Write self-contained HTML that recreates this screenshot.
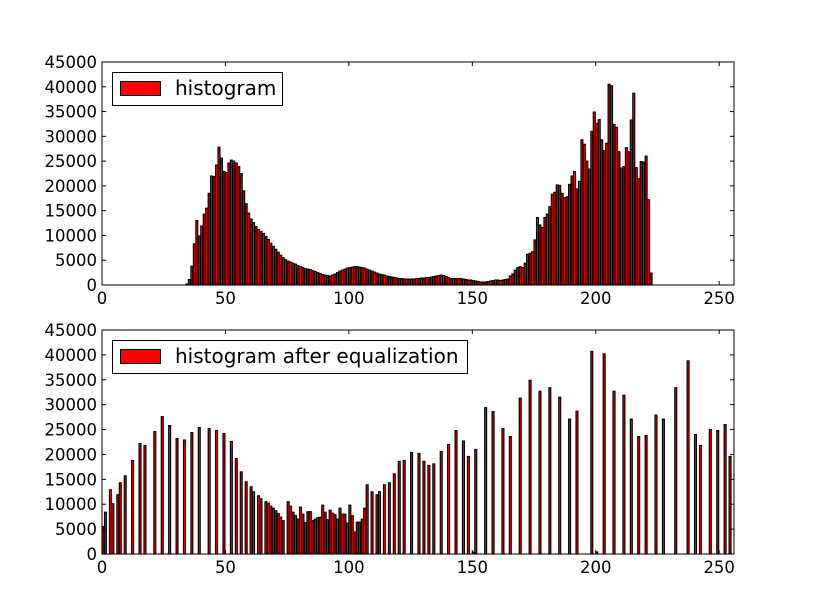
<!DOCTYPE html>
<html><head><meta charset="utf-8">
<style>
html,body{margin:0;padding:0;background:#fff;}
svg{display:block;}
text{font-family:"DejaVu Sans","Liberation Sans",sans-serif;font-size:16.5px;fill:#000;}
text.leg{font-size:20px;}
</style></head>
<body>
<svg id="chart" width="815" height="615" viewBox="0 0 815 615"></svg>
<script>
// ---- data ----
const binCount = 256;
const xTicks = [0, 50, 100, 150, 200, 250];
const yTicks = [0, 5000, 10000, 15000, 20000, 25000, 30000, 35000, 40000, 45000];
// original histogram counts (thousands), bins 0..255
const originalCountsK = [
0,0,0,0,0,0,0,0,0,0,0,0,0,0,0,0,0,0,0,0,0,0,0,0,0,0,0,0,0,0,0,0,0,0,
0.2,1.1,3.8,8.3,13,9.9,11.9,14.3,15.5,18.5,22,21.9,24.2,27.8,25.6,22.9,22.7,24.6,25.2,25,24.6,23.9,22.5,19,16.4,14.5,13.3,12.6,11.8,11.2,10.8,10.4,9.8,9.2,8.4,
7.8,7.2,6.6,6.0,5.5,5.1,4.8,4.6,4.4,4.2,3.9,3.7,3.5,3.3,3.2,3.1,2.9,2.7,2.5,2.3,2.1,2.0,1.9,1.8,
2.0,2.2,2.5,2.8,3.0,3.2,3.4,3.5,3.6,3.7,3.7,3.6,3.5,3.4,3.2,3.0,2.8,2.6,2.4,2.2,
2.1,2.0,1.8,1.7,1.6,1.5,1.4,1.3,1.3,1.2,
1.2,1.2,1.2,1.2,1.3,1.3,1.4,1.4,1.5,1.5,
1.6,1.7,1.8,1.9,2.0,1.9,1.7,1.5,1.3,1.3,
1.3,1.3,1.3,1.2,1.1,1.0,1.0,0.9,0.8,0.7,
0.6,0.6,0.6,0.7,0.8,0.9,1.0,1.0,0.9,1.0,1.1,
1.2,1.8,2.2,3.0,3.5,3.7,3.5,4.4,6.2,6.4,6.7,9.1,13.6,12.1,11.6,13.6,14.3,15.8,18.3,18.7,20.2,20.1,18.5,17.6,17.8,20.3,22.0,22.9,19.4,20.9,29.3,28.4,25.0,23.4,31.0,34.9,32.6,33.4,29.3,27.1,28.6,40.5,40.2,32.4,31.8,26.9,23.6,23.9,27.7,26.9,33.3,38.7,23.7,21.5,24.9,24.8,26.0,17.2,2.4,
0,0,0,0,0,0,0,0,0,0,0,0,0,0,0,0,0,0,0,0,0,0,0,0,0,0,0,0,0,0,0,0,0
];
// equalized histogram: occupied bins and counts (thousands)
const equalizedBins = [0,1,3,4,6,7,9,12,15,17,21,24,27,30,33,36,39,43,46,49,52,54,56,58,60,61,63,64,66,67,68,69,70,71,72,73,75,76,77,78,79,
80,81,82,83,84,85,86,87,88,89,90,91,92,93,94,95,96,97,98,99,100,101,102,103,104,105,106,
107,109,111,112,114,116,118,120,122,125,128,130,132,134,137,140,143,146,148,150,151,155,158,162,165,169,173,177,181,185,189,192,198,200,203,207,211,214,217,220,224,227,232,237,240,242,246,249,252,254];
const equalizedCountsK = [5.5,8.4,12.9,10.1,11.9,14.3,15.7,18.8,22.2,21.8,24.6,27.6,25.8,23.2,22.9,24.4,25.4,25.2,24.8,24.2,22.6,19.2,16.5,14.5,13.5,12.5,11.7,11.1,10.5,10.2,9.6,9.2,8.7,8.1,7.4,6.7,10.5,9.6,8.4,7.7,7.0,
9.4,8.0,6.3,8.5,8.5,6.7,7.0,7.3,7.4,9.8,8.4,6.9,8.8,8.2,7.9,7.0,9.2,8.0,8.0,6.2,9.8,7.7,4.4,6.4,6.4,7.0,9.2,
13.9,12.5,11.9,12.5,13.9,14.3,16.1,18.6,18.8,20.4,20.2,18.6,17.8,18.1,20.6,22.0,24.8,22.7,19.6,0.4,21.0,29.4,28.6,25.2,23.6,31.3,34.9,32.7,33.4,31.5,27.1,28.7,40.7,0.4,40.2,32.7,31.9,27.1,23.6,23.8,27.9,27.1,33.4,38.8,24.0,21.8,25.0,24.8,26.0,19.6];

// ---- drawing ----
const NS = 'http://www.w3.org/2000/svg';
const svg = document.getElementById('chart');
function el(tag, attrs, parent){
  const e = document.createElementNS(NS, tag);
  for (const k in attrs) e.setAttribute(k, attrs[k]);
  (parent||svg).appendChild(e);
  return e;
}
const X0 = 102, X1 = 734;
const yMax = 45000;

function drawPanel(panelName, top, bottom, bins, valuesK, legendLabel, legendW){
  const g = el('g', {});
  
  
  const xs = v => X0 + (v / binCount) * (X1 - X0);
  const ys = v => bottom - (v / yMax) * (bottom - top);
  const barsG = el('g', {}, g);
  
  
  for (let i = 0; i < bins.length; i++){
    const v = valuesK[i] * 1000;
    if (v <= 0) continue;
    const xl = xs(bins[i]), xr = xs(bins[i] + 0.8);
    const yt = ys(v);
    const r = el('rect', {x: xl.toFixed(2), y: yt.toFixed(2), width: (xr-xl).toFixed(2), height: (bottom-yt).toFixed(2), fill:'#ff0000', stroke:'#000', 'stroke-width':1.1}, barsG);
    
    
  }
  const frame = el('rect', {x:X0, y:top, width:X1-X0, height:bottom-top, fill:'none', stroke:'#000', 'stroke-width':1}, g);
  
  
  xTicks.forEach(t => {
    const x = xs(t);
    el('line', {x1:x, y1:bottom, x2:x, y2:bottom-4, stroke:'#000'}, g);
    el('line', {x1:x, y1:top, x2:x, y2:top+4, stroke:'#000'}, g);
    const tx = el('text', {x:x, y:bottom+19, 'text-anchor':'middle'}, g);
    tx.textContent = t;
    
    
  });
  yTicks.forEach(t => {
    const y = ys(t);
    el('line', {x1:X0, y1:y, x2:X0+4, y2:y, stroke:'#000'}, g);
    el('line', {x1:X1, y1:y, x2:X1-4, y2:y, stroke:'#000'}, g);
    const tx = el('text', {x:X0-5, y:y+6, 'text-anchor':'end'}, g);
    tx.textContent = t;
    
    
  });
  const lg = el('g', {}, g);
  
  
  el('rect', {x:112.5, y:top+10.5, width:legendW, height:33, fill:'#fff', stroke:'#000', 'stroke-width':1}, lg);
  el('rect', {x:120.5, y:top+19.5, width:40, height:14, fill:'#ff0000', stroke:'#000', 'stroke-width':1}, lg);
  const lt = el('text', {x:175, y:top+33, 'class':'leg'}, lg);
  lt.textContent = legendLabel;
  
  
}

const topBins = originalCountsK.map((_, i) => i);
drawPanel('original-histogram-panel', 62, 285, topBins, originalCountsK, 'histogram', 170);
drawPanel('equalized-histogram-panel', 330, 554, equalizedBins, equalizedCountsK, 'histogram after equalization', 355);
</script>
</body></html>
